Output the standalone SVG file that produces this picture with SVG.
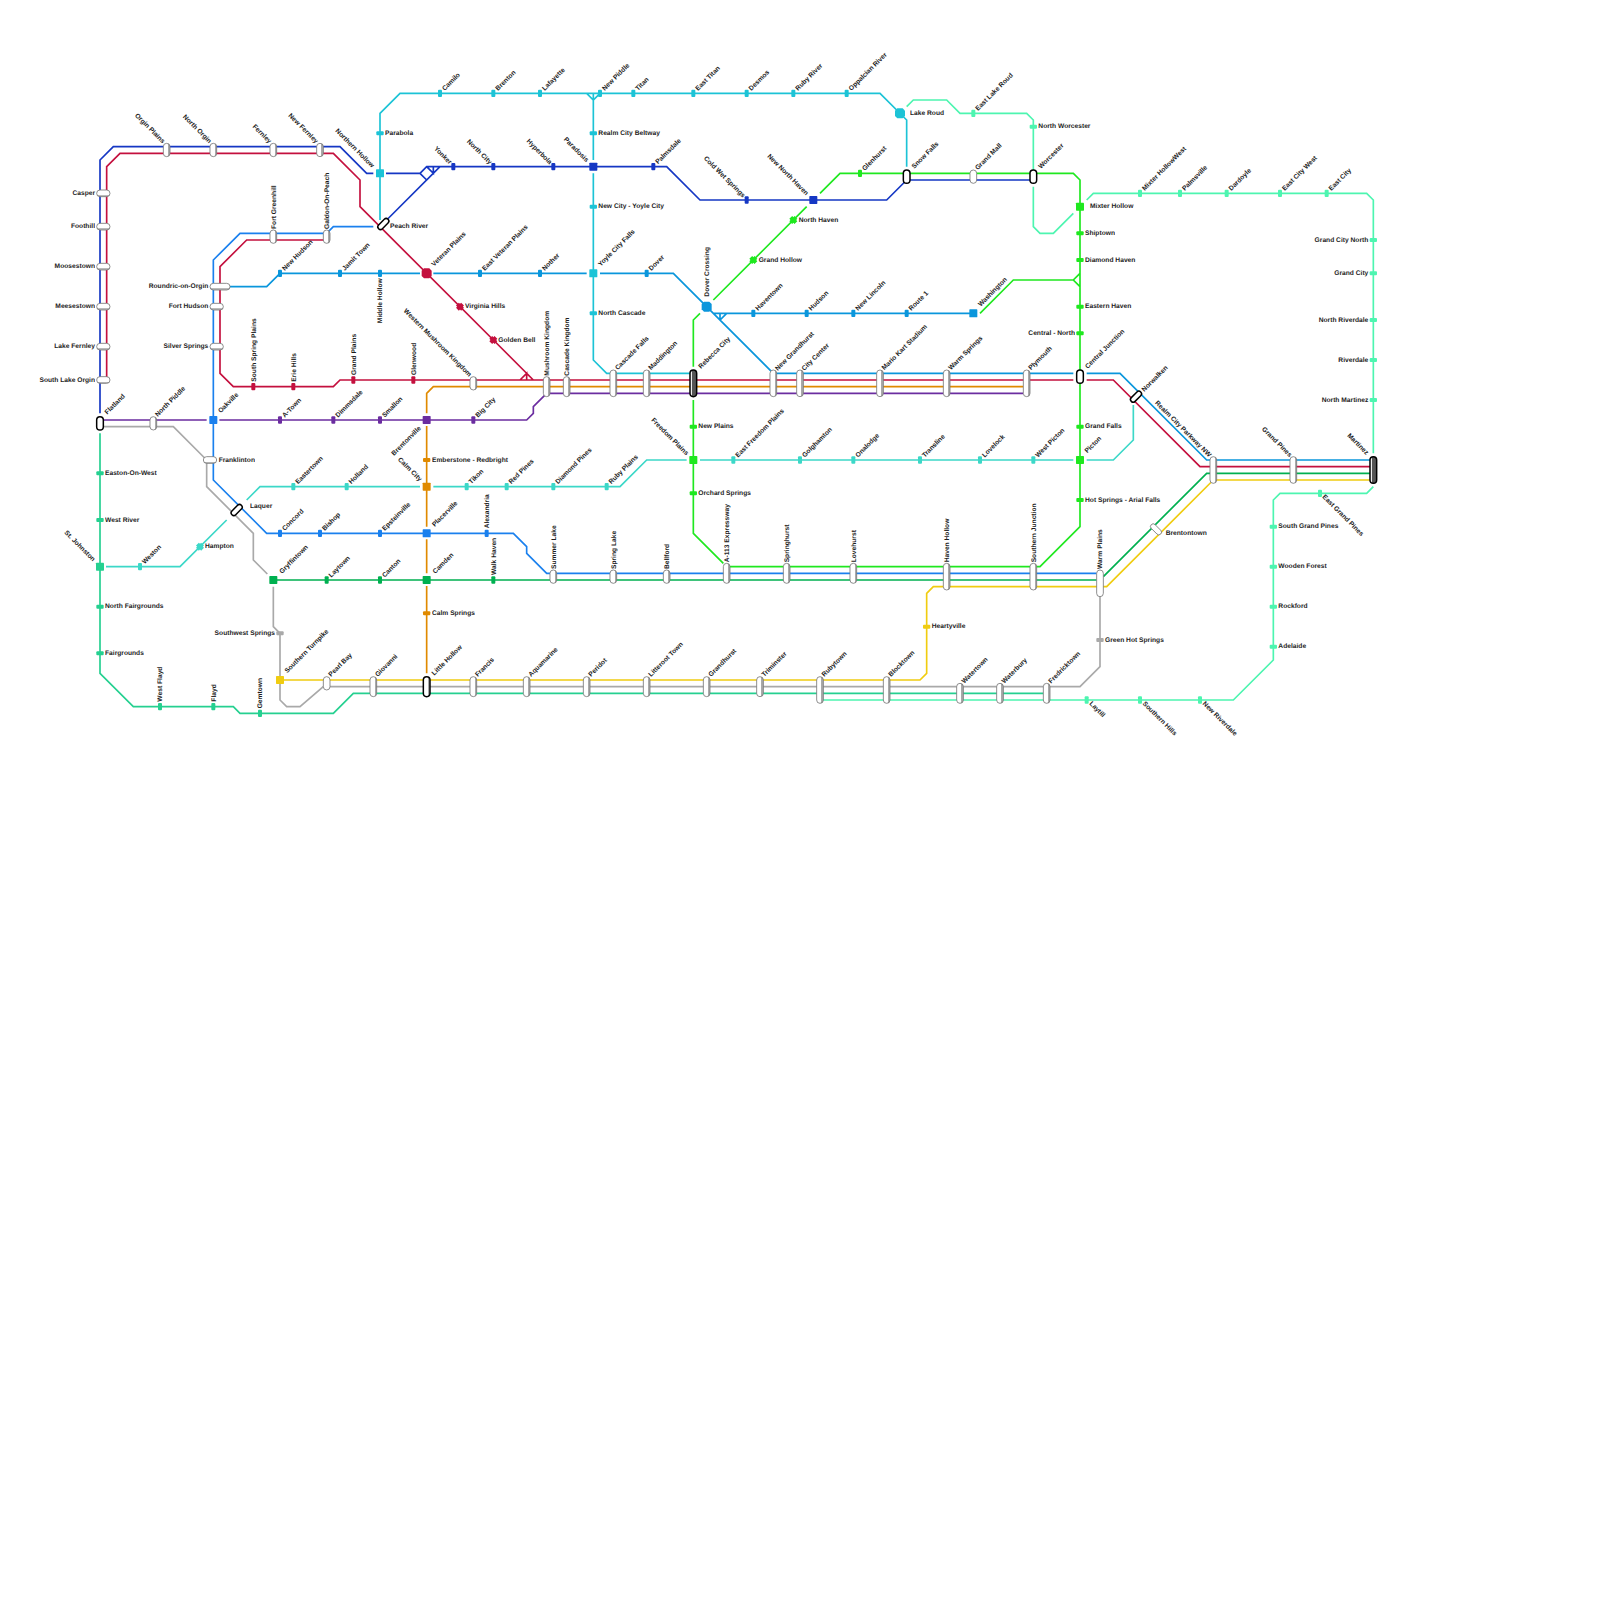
<svg xmlns="http://www.w3.org/2000/svg" width="1600" height="1600" viewBox="0 0 1600 1600">
<style>
text{font-family:"Liberation Sans",Arial,sans-serif;font-weight:700;font-size:20px;fill:#1a1a1a;opacity:.99;text-rendering:geometricPrecision}
.e{text-anchor:end}
path.l{fill:none;stroke-width:5;stroke-linejoin:miter}
.p{stroke:#777;stroke-width:2.5;fill:url(#gv)}
.h{stroke:#777;stroke-width:2.5;fill:url(#gh)}
.k{stroke:#000;stroke-width:4.5;fill:url(#gv)}
.d{stroke:#000;stroke-width:4.5;fill:url(#gd)}
.f{stroke:#000;stroke-width:4.5;fill:#fff}
.g{stroke:#777;stroke-width:2.5;fill:#fff}
.cy{fill:#1cc3d6}.db{fill:#1537c4}.br{fill:#1fe81f}.eb{fill:#0a96dc}.cr{fill:#c4103e}.pu{fill:#6b2da0}.bl{fill:#1a80ee}.or{fill:#e08a00}.tq{fill:#3cd8c8}.gj{fill:#00b050}.sf{fill:#25d090}.gy{fill:#a9a9a9}.ye{fill:#f0cc10}.mi{fill:#4df5b0}
</style>
<defs>
<linearGradient id="gv" x1="0" y1="0" x2="1" y2="0"><stop offset=".72" stop-color="#fff"/><stop offset=".72" stop-color="#aaa"/></linearGradient>
<linearGradient id="gh" x1="0" y1="0" x2="0" y2="1"><stop offset=".75" stop-color="#fff"/><stop offset=".75" stop-color="#bbb"/></linearGradient>
<linearGradient id="gd" x1="0" y1="0" x2="1" y2="0"><stop offset=".3" stop-color="#eee"/><stop offset=".3" stop-color="#555"/></linearGradient>
<rect id="tv" x="-6" y="-11" width="12" height="22" rx="3"/>
<rect id="th" x="-11" y="-6" width="22" height="12" rx="3"/>
<rect id="sq" x="-12" y="-12" width="24" height="24" rx="2"/>
<path id="oc" d="M-8-15H8L15-8V8L8 15H-8L-15 8V-8Z"/>
<path id="xx" d="M-3.5-12L0-8.5L3.5-12L12-3.5L8.5 0L12 3.5L3.5 12L0 8.5L-3.5 12L-12 3.5L-8.5 0L-12-3.5Z"/>
</defs>
<g id="map" transform="scale(.333333)">
<g id="connectors">
<path class="l" stroke="#1537c4" d="M300 1240V480L340 440H1020L1100 520H1120M1158 520H1260L1280 500H2000L2100 600H2660L2720 540H3100M1160 660L1320 500M1260 520L1280 540M1280 500L1300 520V500"/>
<path class="l" stroke="#c4103e" d="M320 1140V500L360 460H1000L1080 540V620L1600 1140M980 720H740L660 800V1120L700 1160H1000L1020 1140H3220M3260 1140H3340L3600 1400H4110M1560 1140L1580 1120V1140M1580 1120L1600 1140"/>
<path class="l" stroke="#1a80ee" d="M1120 680H1000L980 700H720L640 780V1440L800 1600H1540L1580 1640V1660L1640 1720H3290"/>
<path class="l" stroke="#1cc3d6" d="M1140 660V340L1200 280H2640L2720 360V500M1780 280V480M1780 520V1080L1820 1120H2070M1760 280L1780 300L1800 280"/>
<path class="l" stroke="#0a96dc" d="M690 860H800L840 820H1260M1300 820H1760M1800 820H2020L2320 1120H3220M3260 1120H3360L3620 1380H4110M2140 940H2920M2140 940L2160 960L2180 940M2160 940V960"/>
<path class="l" stroke="#1fe81f" d="M2140 900L2420 620M2460 580L2520 520H3220L3240 540V1580L3120 1700H2190M2170 1690L2080 1600V1200M2080 1100V960L2100 940M2940 940L3040 840H3220M3240 820L3220 840L3240 860"/>
<path class="l" stroke="#4df5b0" d="M2720 320L2740 300H2840L2880 340H3080L3100 360V510M3100 560V680L3120 700H3160L3220 640M3260 600L3280 580H4100L4120 600V1360M4120 1460L4100 1480H3840L3820 1500V1980L3700 2100H2460"/>
<path class="l" stroke="#3cd8c8" d="M318 1700H540L680 1560M740 1500L780 1460H1260M1300 1460H1860L1940 1380H2060M2100 1380H3220M3260 1380H3340L3400 1320V1215"/>
<path class="l" stroke="#a9a9a9" d="M310 1280H520L620 1380V1460L760 1600V1680L802 1722M820 1760V1880L840 1900V2100L860 2120H900L970 2060H3240L3300 2000V1790"/>
<path class="l" stroke="#00b050" d="M830 1740H3290M3310 1730L3620 1420H4110"/>
<path class="l" stroke="#f0cc10" d="M840 2040H2760L2780 2020V1780L2800 1760H3320L3640 1440H4110"/>
<path class="l" stroke="#e08a00" d="M3070 1160H1300L1280 1180V1240M1280 1278V1580M1280 1618V1720M1280 1758V2020"/>
<path class="l" stroke="#6b2da0" d="M310 1260H620M658 1260H1580L1600 1240V1220L1640 1180H3070"/>
<path class="l" stroke="#25d090" d="M300 1300V2020L400 2120H700L720 2140H1000L1060 2080H3130"/>
</g>
<g id="nodes">
<g id="n-parabola"><use href="#th" x="1140" y="400" class="cy"/><text x="1155" y="405">Parabola</text></g>
<g id="n-camilo"><use href="#tv" x="1320" y="280" class="cy"/><text transform="translate(1334 273) rotate(-45)">Camilo</text></g>
<g id="n-brenton"><use href="#tv" x="1480" y="280" class="cy"/><text transform="translate(1494 273) rotate(-45)">Brenton</text></g>
<g id="n-lafayette"><use href="#tv" x="1620" y="280" class="cy"/><text transform="translate(1634 273) rotate(-45)">Lafayette</text></g>
<g id="n-new-piddle"><use href="#tv" x="1800" y="280" class="cy"/><text transform="translate(1814 273) rotate(-45)">New Piddle</text></g>
<g id="n-titan"><use href="#tv" x="1900" y="280" class="cy"/><text transform="translate(1914 273) rotate(-45)">Titan</text></g>
<g id="n-east-titan"><use href="#tv" x="2080" y="280" class="cy"/><text transform="translate(2094 273) rotate(-45)">East Titan</text></g>
<g id="n-desmos"><use href="#tv" x="2240" y="280" class="cy"/><text transform="translate(2254 273) rotate(-45)">Desmos</text></g>
<g id="n-ruby-river"><use href="#tv" x="2380" y="280" class="cy"/><text transform="translate(2394 273) rotate(-45)">Ruby River</text></g>
<g id="n-oppalcian-river"><use href="#tv" x="2540" y="280" class="cy"/><text transform="translate(2554 273) rotate(-45)">Oppalcian River</text></g>
<g id="n-realm-city-beltway"><use href="#th" x="1780" y="400" class="cy"/><text x="1795" y="405">Realm City Beltway</text></g>
<g id="n-new-city-yoyle-city"><use href="#th" x="1780" y="620" class="cy"/><text x="1795" y="625">New City - Yoyle City</text></g>
<g id="n-yoyle-city-falls"><use href="#sq" x="1780" y="820" class="cy"/><text transform="translate(1802 800) rotate(-45)">Yoyle City Falls</text></g>
<g id="n-north-cascade"><use href="#th" x="1780" y="940" class="cy"/><text x="1795" y="945">North Cascade</text></g>
<g id="n-lake-roud"><use href="#oc" x="2700" y="340" class="cy"/><text x="2730" y="345">Lake Roud</text></g>
<g id="n-northern-hollow"><use href="#sq" x="1140" y="520" class="cy"/><text class="e" transform="translate(1115 504) rotate(45)">Northern Hollow</text></g>
<g id="n-yonker"><use href="#tv" x="1360" y="500" class="db"/><text class="e" transform="translate(1348 494) rotate(45)">Yonker</text></g>
<g id="n-north-city"><use href="#tv" x="1480" y="500" class="db"/><text class="e" transform="translate(1468 494) rotate(45)">North City</text></g>
<g id="n-hyperbola"><use href="#tv" x="1660" y="500" class="db"/><text class="e" transform="translate(1648 494) rotate(45)">Hyperbola</text></g>
<g id="n-paradosis"><use href="#sq" x="1780" y="500" class="db"/><text class="e" transform="translate(1758 487) rotate(45)">Paradosis</text></g>
<g id="n-palmsdale"><use href="#tv" x="1960" y="500" class="db"/><text transform="translate(1974 493) rotate(-45)">Palmsdale</text></g>
<g id="n-cold-wet-springs"><use href="#tv" x="2240" y="600" class="db"/><text class="e" transform="translate(2228 594) rotate(45)">Cold Wet Springs</text></g>
<g id="n-new-north-haven"><use href="#sq" x="2440" y="600" class="db"/><text class="e" transform="translate(2418 587) rotate(45)">New North Haven</text></g>
<g id="n-glenhurst"><use href="#tv" x="2580" y="520" class="br"/><text transform="translate(2594 513) rotate(-45)">Glenhurst</text></g>
<g id="n-north-haven"><use href="#xx" x="2380" y="660" class="br"/><text x="2396" y="665">North Haven</text></g>
<g id="n-grand-hollow"><use href="#xx" x="2260" y="780" class="br"/><text x="2276" y="785">Grand Hollow</text></g>
<g id="n-mixter-hollow"><use href="#sq" x="3240" y="620" class="br"/><text x="3270" y="625">Mixter Hollow</text></g>
<g id="n-shiptown"><use href="#th" x="3240" y="700" class="br"/><text x="3255" y="705">Shiptown</text></g>
<g id="n-diamond-haven"><use href="#th" x="3240" y="780" class="br"/><text x="3255" y="785">Diamond Haven</text></g>
<g id="n-eastern-haven"><use href="#th" x="3240" y="920" class="br"/><text x="3255" y="925">Eastern Haven</text></g>
<g id="n-central-north"><use href="#th" x="3240" y="1000" class="br"/><text class="e" x="3225" y="1005">Central - North</text></g>
<g id="n-grand-falls"><use href="#th" x="3240" y="1280" class="br"/><text x="3255" y="1285">Grand Falls</text></g>
<g id="n-picton"><use href="#sq" x="3240" y="1380" class="br"/><text transform="translate(3262 1360) rotate(-45)">Picton</text></g>
<g id="n-hot-springs-arial-falls"><use href="#th" x="3240" y="1500" class="br"/><text x="3255" y="1505">Hot Springs - Arial Falls</text></g>
<g id="n-new-plains"><use href="#th" x="2080" y="1280" class="br"/><text x="2095" y="1285">New Plains</text></g>
<g id="n-freedom-plains"><use href="#sq" x="2080" y="1380" class="br"/><text class="e" transform="translate(2058 1367) rotate(45)">Freedom Plains</text></g>
<g id="n-orchard-springs"><use href="#th" x="2080" y="1480" class="br"/><text x="2095" y="1485">Orchard Springs</text></g>
<g id="n-new-hudson"><use href="#tv" x="840" y="820" class="eb"/><text transform="translate(854 813) rotate(-45)">New Hudson</text></g>
<g id="n-jamit-town"><use href="#tv" x="1020" y="820" class="eb"/><text transform="translate(1034 813) rotate(-45)">Jamit Town</text></g>
<g id="n-middle-hollow"><use href="#tv" x="1140" y="820" class="eb"/><text class="e" transform="translate(1147 835) rotate(-90)">Middle Hollow</text></g>
<g id="n-east-veteran-plains"><use href="#tv" x="1440" y="820" class="eb"/><text transform="translate(1454 813) rotate(-45)">East Veteran Plains</text></g>
<g id="n-nother"><use href="#tv" x="1620" y="820" class="eb"/><text transform="translate(1634 813) rotate(-45)">Nother</text></g>
<g id="n-dover"><use href="#tv" x="1940" y="820" class="eb"/><text transform="translate(1954 813) rotate(-45)">Dover</text></g>
<g id="n-dover-crossing"><use href="#oc" x="2120" y="920" class="eb"/><text transform="translate(2127 890) rotate(-90)">Dover Crossing</text></g>
<g id="n-haventown"><use href="#tv" x="2260" y="940" class="eb"/><text transform="translate(2274 933) rotate(-45)">Haventown</text></g>
<g id="n-hudson"><use href="#tv" x="2420" y="940" class="eb"/><text transform="translate(2434 933) rotate(-45)">Hudson</text></g>
<g id="n-new-lincoln"><use href="#tv" x="2560" y="940" class="eb"/><text transform="translate(2574 933) rotate(-45)">New Lincoln</text></g>
<g id="n-route-1"><use href="#tv" x="2720" y="940" class="eb"/><text transform="translate(2734 933) rotate(-45)">Route 1</text></g>
<g id="n-washington"><use href="#sq" x="2920" y="940" class="eb"/><text transform="translate(2942 920) rotate(-45)">Washington</text></g>
<g id="n-veteran-plains"><use href="#oc" x="1280" y="820" class="cr"/><text transform="translate(1302 800) rotate(-45)">Veteran Plains</text></g>
<g id="n-virginia-hills"><use href="#xx" x="1380" y="920" class="cr"/><text x="1395" y="925">Virginia Hills</text></g>
<g id="n-golden-bell"><use href="#xx" x="1480" y="1020" class="cr"/><text x="1495" y="1025">Golden Bell</text></g>
<g id="n-south-spring-plains"><use href="#tv" x="760" y="1160" class="cr"/><text transform="translate(767 1145) rotate(-90)">South Spring Plains</text></g>
<g id="n-erie-hills"><use href="#tv" x="880" y="1160" class="cr"/><text transform="translate(887 1145) rotate(-90)">Erie Hills</text></g>
<g id="n-grand-plains"><use href="#tv" x="1060" y="1140" class="cr"/><text transform="translate(1067 1125) rotate(-90)">Grand Plains</text></g>
<g id="n-glenwood"><use href="#tv" x="1240" y="1140" class="cr"/><text transform="translate(1247 1125) rotate(-90)">Glenwood</text></g>
<g id="n-oakville"><use href="#sq" x="640" y="1260" class="bl"/><text transform="translate(662 1240) rotate(-45)">Oakville</text></g>
<g id="n-a-town"><use href="#tv" x="840" y="1260" class="pu"/><text transform="translate(854 1253) rotate(-45)">A-Town</text></g>
<g id="n-dimmsdale"><use href="#tv" x="1000" y="1260" class="pu"/><text transform="translate(1014 1253) rotate(-45)">Dimmsdale</text></g>
<g id="n-smallon"><use href="#tv" x="1140" y="1260" class="pu"/><text transform="translate(1154 1253) rotate(-45)">Smallon</text></g>
<g id="n-brentonville"><use href="#sq" x="1280" y="1260" class="pu"/><text class="e" transform="translate(1264 1286) rotate(-45)">Brentonville</text></g>
<g id="n-big-city"><use href="#tv" x="1420" y="1260" class="pu"/><text transform="translate(1434 1253) rotate(-45)">Big City</text></g>
<g id="n-emberstone-redbright"><use href="#th" x="1280" y="1380" class="or"/><text x="1296" y="1385">Emberstone - Redbright</text></g>
<g id="n-calm-city"><use href="#sq" x="1280" y="1460" class="or"/><text class="e" transform="translate(1258 1445) rotate(45)">Calm City</text></g>
<g id="n-calm-springs"><use href="#th" x="1280" y="1840" class="or"/><text x="1296" y="1845">Calm Springs</text></g>
<g id="n-placerville"><use href="#sq" x="1280" y="1600" class="bl"/><text transform="translate(1304 1581) rotate(-45)">Placerville</text></g>
<g id="n-camden"><use href="#sq" x="1280" y="1740" class="gj"/><text transform="translate(1306 1722) rotate(-45)">Camden</text></g>
<g id="n-concord"><use href="#tv" x="840" y="1600" class="bl"/><text transform="translate(854 1593) rotate(-45)">Concord</text></g>
<g id="n-bishop"><use href="#tv" x="960" y="1600" class="bl"/><text transform="translate(974 1593) rotate(-45)">Bishop</text></g>
<g id="n-epsteinville"><use href="#tv" x="1140" y="1600" class="bl"/><text transform="translate(1154 1593) rotate(-45)">Epsteinville</text></g>
<g id="n-alexandria"><use href="#tv" x="1460" y="1600" class="bl"/><text transform="translate(1467 1585) rotate(-90)">Alexandria</text></g>
<g id="n-walk-haven"><use href="#tv" x="1480" y="1740" class="gj"/><text transform="translate(1487 1725) rotate(-90)">Walk Haven</text></g>
<g id="n-gryffintown"><use href="#sq" x="820" y="1740" class="gj"/><text transform="translate(846 1722) rotate(-45)">Gryffintown</text></g>
<g id="n-laytown"><use href="#tv" x="980" y="1740" class="gj"/><text transform="translate(994 1733) rotate(-45)">Laytown</text></g>
<g id="n-canton"><use href="#tv" x="1140" y="1740" class="gj"/><text transform="translate(1154 1733) rotate(-45)">Canton</text></g>
<g id="n-eastertown"><use href="#tv" x="880" y="1460" class="tq"/><text transform="translate(894 1453) rotate(-45)">Eastertown</text></g>
<g id="n-holland"><use href="#tv" x="1040" y="1460" class="tq"/><text transform="translate(1054 1453) rotate(-45)">Holland</text></g>
<g id="n-tikon"><use href="#tv" x="1400" y="1460" class="tq"/><text transform="translate(1414 1453) rotate(-45)">Tikon</text></g>
<g id="n-red-pines"><use href="#tv" x="1520" y="1460" class="tq"/><text transform="translate(1534 1453) rotate(-45)">Red Pines</text></g>
<g id="n-diamond-pines"><use href="#tv" x="1660" y="1460" class="tq"/><text transform="translate(1674 1453) rotate(-45)">Diamond Pines</text></g>
<g id="n-ruby-plains"><use href="#tv" x="1820" y="1460" class="tq"/><text transform="translate(1834 1453) rotate(-45)">Ruby Plains</text></g>
<g id="n-east-freedom-plains"><use href="#tv" x="2200" y="1380" class="tq"/><text transform="translate(2214 1373) rotate(-45)">East Freedom Plains</text></g>
<g id="n-golghamton"><use href="#tv" x="2400" y="1380" class="tq"/><text transform="translate(2414 1373) rotate(-45)">Golghamton</text></g>
<g id="n-onalodge"><use href="#tv" x="2560" y="1380" class="tq"/><text transform="translate(2574 1373) rotate(-45)">Onalodge</text></g>
<g id="n-transline"><use href="#tv" x="2760" y="1380" class="tq"/><text transform="translate(2774 1373) rotate(-45)">Transline</text></g>
<g id="n-lovelock"><use href="#tv" x="2940" y="1380" class="tq"/><text transform="translate(2954 1373) rotate(-45)">Lovelock</text></g>
<g id="n-west-picton"><use href="#tv" x="3100" y="1380" class="tq"/><text transform="translate(3114 1373) rotate(-45)">West Picton</text></g>
<g id="n-weston"><use href="#tv" x="420" y="1700" class="tq"/><text transform="translate(434 1693) rotate(-45)">Weston</text></g>
<g id="n-hampton"><use href="#xx" x="600" y="1640" class="tq"/><text x="615" y="1645">Hampton</text></g>
<g id="n-easton-on-west"><use href="#th" x="300" y="1420" class="sf"/><text x="315" y="1425">Easton-On-West</text></g>
<g id="n-west-river"><use href="#th" x="300" y="1560" class="sf"/><text x="315" y="1565">West River</text></g>
<g id="n-st-johnston"><use href="#sq" x="300" y="1700" class="sf"/><text class="e" transform="translate(278 1685) rotate(45)">St. Johnston</text></g>
<g id="n-north-fairgrounds"><use href="#th" x="300" y="1820" class="sf"/><text x="315" y="1825">North Fairgrounds</text></g>
<g id="n-fairgrounds"><use href="#th" x="300" y="1960" class="sf"/><text x="315" y="1965">Fairgrounds</text></g>
<g id="n-west-flayd"><use href="#tv" x="480" y="2120" class="sf"/><text transform="translate(487 2105) rotate(-90)">West Flayd</text></g>
<g id="n-flayd"><use href="#tv" x="640" y="2120" class="sf"/><text transform="translate(647 2105) rotate(-90)">Flayd</text></g>
<g id="n-gemtown"><use href="#tv" x="780" y="2140" class="sf"/><text transform="translate(787 2125) rotate(-90)">Gemtown</text></g>
<g id="n-southwest-springs"><use href="#th" x="840" y="1900" class="gy"/><text class="e" x="825" y="1905">Southwest Springs</text></g>
<g id="n-green-hot-springs"><use href="#th" x="3300" y="1920" class="gy"/><text x="3315" y="1925">Green Hot Springs</text></g>
<g id="n-southern-turnpike"><use href="#sq" x="840" y="2040" class="ye"/><text transform="translate(862 2020) rotate(-45)">Southern Turnpike</text></g>
<g id="n-heartyville"><use href="#th" x="2780" y="1880" class="ye"/><text x="2795" y="1885">Heartyville</text></g>
<g id="n-east-lake-roud"><use href="#tv" x="2920" y="340" class="mi"/><text transform="translate(2934 333) rotate(-45)">East Lake Roud</text></g>
<g id="n-north-worcester"><use href="#th" x="3100" y="380" class="mi"/><text x="3115" y="385">North Worcester</text></g>
<g id="n-mixter-hollowwest"><use href="#tv" x="3420" y="580" class="mi"/><text transform="translate(3434 573) rotate(-45)">Mixter HollowWest</text></g>
<g id="n-palmsville"><use href="#tv" x="3540" y="580" class="mi"/><text transform="translate(3554 573) rotate(-45)">Palmsville</text></g>
<g id="n-dardoyle"><use href="#tv" x="3680" y="580" class="mi"/><text transform="translate(3694 573) rotate(-45)">Dardoyle</text></g>
<g id="n-east-city-west"><use href="#tv" x="3840" y="580" class="mi"/><text transform="translate(3854 573) rotate(-45)">East City West</text></g>
<g id="n-east-city"><use href="#tv" x="3980" y="580" class="mi"/><text transform="translate(3994 573) rotate(-45)">East City</text></g>
<g id="n-grand-city-north"><use href="#th" x="4120" y="720" class="mi"/><text class="e" x="4105" y="725">Grand City North</text></g>
<g id="n-grand-city"><use href="#th" x="4120" y="820" class="mi"/><text class="e" x="4105" y="825">Grand City</text></g>
<g id="n-north-riverdale"><use href="#th" x="4120" y="960" class="mi"/><text class="e" x="4105" y="965">North Riverdale</text></g>
<g id="n-riverdale"><use href="#th" x="4120" y="1080" class="mi"/><text class="e" x="4105" y="1085">Riverdale</text></g>
<g id="n-north-martinez"><use href="#th" x="4120" y="1200" class="mi"/><text class="e" x="4105" y="1205">North Martinez</text></g>
<g id="n-east-grand-pines"><use href="#tv" x="3960" y="1480" class="mi"/><text transform="translate(3966 1492) rotate(45)">East Grand Pines</text></g>
<g id="n-south-grand-pines"><use href="#th" x="3820" y="1580" class="mi"/><text x="3835" y="1585">South Grand Pines</text></g>
<g id="n-wooden-forest"><use href="#th" x="3820" y="1700" class="mi"/><text x="3835" y="1705">Wooden Forest</text></g>
<g id="n-rockford"><use href="#th" x="3820" y="1820" class="mi"/><text x="3835" y="1825">Rockford</text></g>
<g id="n-adelaide"><use href="#th" x="3820" y="1940" class="mi"/><text x="3835" y="1945">Adelaide</text></g>
<g id="n-laytill"><use href="#tv" x="3260" y="2100" class="mi"/><text transform="translate(3267 2112) rotate(45)">Laytill</text></g>
<g id="n-southern-hills"><use href="#tv" x="3420" y="2100" class="mi"/><text transform="translate(3427 2112) rotate(45)">Southern Hills</text></g>
<g id="n-new-riverdale"><use href="#tv" x="3600" y="2100" class="mi"/><text transform="translate(3607 2112) rotate(45)">New Riverdale</text></g>
<g id="n-casper"><rect class="h" x="290" y="570" width="40" height="20" rx="10"/><text class="e" x="285" y="585">Casper</text></g>
<g id="n-foothill"><rect class="h" x="290" y="670" width="40" height="20" rx="10"/><text class="e" x="285" y="685">Foothill</text></g>
<g id="n-moosestown"><rect class="h" x="290" y="790" width="40" height="20" rx="10"/><text class="e" x="285" y="805">Moosestown</text></g>
<g id="n-meesestown"><rect class="h" x="290" y="910" width="40" height="20" rx="10"/><text class="e" x="285" y="925">Meesestown</text></g>
<g id="n-lake-fernley"><rect class="h" x="290" y="1030" width="40" height="20" rx="10"/><text class="e" x="285" y="1045">Lake Fernley</text></g>
<g id="n-south-lake-orgin"><rect class="h" x="290" y="1130" width="40" height="20" rx="10"/><text class="e" x="285" y="1145">South Lake Orgin</text></g>
<g id="n-roundric-on-orgin"><rect class="h" x="630" y="850" width="60" height="20" rx="10"/><text class="e" x="625" y="865">Roundric-on-Orgin</text></g>
<g id="n-fort-hudson"><rect class="h" x="630" y="910" width="40" height="20" rx="10"/><text class="e" x="625" y="925">Fort Hudson</text></g>
<g id="n-silver-springs"><rect class="h" x="630" y="1030" width="40" height="20" rx="10"/><text class="e" x="625" y="1045">Silver Springs</text></g>
<g id="n-franklinton"><rect class="h" x="610" y="1370" width="40" height="20" rx="10"/><text x="656" y="1386">Franklinton</text></g>
<g id="n-orgin-plains"><rect class="p" x="490" y="430" width="20" height="40" rx="10"/><text class="e" transform="translate(487 431) rotate(45)">Orgin Plains</text></g>
<g id="n-north-orgin"><rect class="p" x="630" y="430" width="20" height="40" rx="10"/><text class="e" transform="translate(627 431) rotate(45)">North Orgin</text></g>
<g id="n-fernley"><rect class="p" x="810" y="430" width="20" height="40" rx="10"/><text class="e" transform="translate(807 431) rotate(45)">Fernley</text></g>
<g id="n-new-fernley"><rect class="p" x="950" y="430" width="20" height="40" rx="10"/><text class="e" transform="translate(947 431) rotate(45)">New Fernley</text></g>
<g id="n-fort-greenhill"><rect class="p" x="810" y="690" width="20" height="40" rx="10"/><text transform="translate(827 687) rotate(-90)">Fort Greenhill</text></g>
<g id="n-galdon-on-peach"><rect class="p" x="970" y="690" width="20" height="40" rx="10"/><text transform="translate(987 687) rotate(-90)">Galdon-On-Peach</text></g>
<g id="n-flatland"><rect class="f" x="290" y="1250" width="20" height="40" rx="10"/><text transform="translate(322 1244) rotate(-45)">Flatland</text></g>
<g id="n-north-piddle"><rect class="p" x="450" y="1250" width="20" height="40" rx="10"/><text transform="translate(473 1251) rotate(-45)">North Piddle</text></g>
<g id="n-peach-river"><rect class="f" x="-20" y="-8" width="40" height="16" rx="8" transform="translate(1150 672) rotate(-45)"/><text x="1170" y="684">Peach River</text></g>
<g id="n-laquer"><rect class="f" x="-20" y="-8" width="40" height="16" rx="8" transform="translate(710 1530) rotate(-45)"/><text x="750" y="1525">Laquer</text></g>
<g id="n-norwalken"><rect class="f" x="-20" y="-8" width="40" height="16" rx="8" transform="translate(3408 1190) rotate(-45)"/><text transform="translate(3433 1176) rotate(-45)">Norwalken</text></g>
<g id="n-brentontown"><rect class="g" x="-20" y="-8" width="40" height="16" rx="8" transform="translate(3468 1588) rotate(45)"/><text x="3497" y="1605">Brentontown</text></g>
<g id="n-western-mushroom-kingdom"><rect class="p" x="1410" y="1130" width="20" height="40" rx="10"/><text class="e" transform="translate(1407 1131) rotate(45)">Western Mushroom Kingdom</text></g>
<g id="n-mushroom-kingdom"><rect class="p" x="1630" y="1130" width="20" height="60" rx="10"/><text transform="translate(1647 1127) rotate(-90)">Mushroom Kingdom</text></g>
<g id="n-cascade-kingdom"><rect class="p" x="1690" y="1130" width="20" height="60" rx="10"/><text transform="translate(1707 1127) rotate(-90)">Cascade Kingdom</text></g>
<g id="n-cascade-falls"><rect class="p" x="1830" y="1110" width="20" height="80" rx="10"/><text transform="translate(1853 1111) rotate(-45)">Cascade Falls</text></g>
<g id="n-maddington"><rect class="p" x="1930" y="1110" width="20" height="80" rx="10"/><text transform="translate(1953 1111) rotate(-45)">Maddington</text></g>
<g id="n-rebecca-city"><rect class="d" x="2070" y="1110" width="20" height="80" rx="10"/><text transform="translate(2103 1107) rotate(-45)">Rebecca City</text></g>
<g id="n-new-grandhurst"><rect class="p" x="2310" y="1110" width="20" height="80" rx="10"/><text transform="translate(2333 1113) rotate(-45)">New Grandhurst</text></g>
<g id="n-city-center"><rect class="p" x="2390" y="1110" width="20" height="80" rx="10"/><text transform="translate(2413 1113) rotate(-45)">City Center</text></g>
<g id="n-mario-kart-stadium"><rect class="p" x="2630" y="1110" width="20" height="80" rx="10"/><text transform="translate(2653 1111) rotate(-45)">Mario Kart Stadium</text></g>
<g id="n-warm-springs"><rect class="p" x="2830" y="1110" width="20" height="80" rx="10"/><text transform="translate(2853 1111) rotate(-45)">Warm Springs</text></g>
<g id="n-plymouth"><rect class="p" x="3070" y="1110" width="20" height="80" rx="10"/><text transform="translate(3093 1111) rotate(-45)">Plymouth</text></g>
<g id="n-central-junction"><rect class="f" x="3230" y="1110" width="20" height="40" rx="10"/><text transform="translate(3263 1107) rotate(-45)">Central Junction</text></g>
<g id="n-realm-city-parkway-nw"><rect class="p" x="3630" y="1370" width="20" height="80" rx="10"/><text class="e" transform="translate(3626 1372) rotate(45)">Realm City Parkway NW</text></g>
<g id="n-grand-pines"><rect class="p" x="3870" y="1370" width="20" height="80" rx="10"/><text class="e" transform="translate(3868 1372) rotate(45)">Grand Pines</text></g>
<g id="n-martinez"><rect class="d" x="4110" y="1370" width="20" height="80" rx="10"/><text class="e" transform="translate(4098 1365) rotate(45)">Martinez</text></g>
<g id="n-summer-lake"><rect class="p" x="1650" y="1710" width="20" height="40" rx="10"/><text transform="translate(1667 1707) rotate(-90)">Summer Lake</text></g>
<g id="n-spring-lake"><rect class="p" x="1830" y="1710" width="20" height="40" rx="10"/><text transform="translate(1847 1707) rotate(-90)">Spring Lake</text></g>
<g id="n-bellford"><rect class="p" x="1990" y="1710" width="20" height="40" rx="10"/><text transform="translate(2007 1707) rotate(-90)">Bellford</text></g>
<g id="n-a-113-expressway"><rect class="p" x="2170" y="1690" width="20" height="60" rx="10"/><text transform="translate(2187 1687) rotate(-90)">A-113 Expressway</text></g>
<g id="n-springhurst"><rect class="p" x="2350" y="1690" width="20" height="60" rx="10"/><text transform="translate(2367 1687) rotate(-90)">Springhurst</text></g>
<g id="n-lovehurst"><rect class="p" x="2550" y="1690" width="20" height="60" rx="10"/><text transform="translate(2567 1687) rotate(-90)">Lovehurst</text></g>
<g id="n-haven-hollow"><rect class="p" x="2830" y="1690" width="20" height="80" rx="10"/><text transform="translate(2847 1687) rotate(-90)">Haven Hollow</text></g>
<g id="n-southern-junction"><rect class="p" x="3090" y="1690" width="20" height="80" rx="10"/><text transform="translate(3107 1687) rotate(-90)">Southern Junction</text></g>
<g id="n-warm-plains"><rect class="g" x="3290" y="1710" width="20" height="80" rx="10"/><text transform="translate(3307 1707) rotate(-90)">Warm Plains</text></g>
<g id="n-pearl-bay"><rect class="g" x="970" y="2030" width="20" height="40" rx="10"/><text transform="translate(993 2031) rotate(-45)">Pearl Bay</text></g>
<g id="n-giovanni"><rect class="p" x="1110" y="2030" width="20" height="60" rx="10"/><text transform="translate(1133 2031) rotate(-45)">Giovanni</text></g>
<g id="n-little-hollow"><rect class="k" x="1270" y="2030" width="20" height="60" rx="10"/><text transform="translate(1303 2027) rotate(-45)">Little Hollow</text></g>
<g id="n-francis"><rect class="p" x="1410" y="2030" width="20" height="60" rx="10"/><text transform="translate(1433 2031) rotate(-45)">Francis</text></g>
<g id="n-aquamarine"><rect class="p" x="1570" y="2030" width="20" height="60" rx="10"/><text transform="translate(1593 2031) rotate(-45)">Aquamarine</text></g>
<g id="n-peridot"><rect class="p" x="1750" y="2030" width="20" height="60" rx="10"/><text transform="translate(1773 2031) rotate(-45)">Peridot</text></g>
<g id="n-litteroot-town"><rect class="p" x="1930" y="2030" width="20" height="60" rx="10"/><text transform="translate(1953 2031) rotate(-45)">Litteroot Town</text></g>
<g id="n-grandhurst"><rect class="p" x="2110" y="2030" width="20" height="60" rx="10"/><text transform="translate(2133 2031) rotate(-45)">Grandhurst</text></g>
<g id="n-triminster"><rect class="p" x="2270" y="2030" width="20" height="60" rx="10"/><text transform="translate(2293 2031) rotate(-45)">Triminster</text></g>
<g id="n-rubytown"><rect class="p" x="2450" y="2030" width="20" height="80" rx="10"/><text transform="translate(2473 2031) rotate(-45)">Rubytown</text></g>
<g id="n-blocktown"><rect class="p" x="2650" y="2030" width="20" height="80" rx="10"/><text transform="translate(2673 2031) rotate(-45)">Blocktown</text></g>
<g id="n-watertown"><rect class="p" x="2870" y="2050" width="20" height="60" rx="10"/><text transform="translate(2893 2051) rotate(-45)">Watertown</text></g>
<g id="n-waterbury"><rect class="p" x="2990" y="2050" width="20" height="60" rx="10"/><text transform="translate(3013 2051) rotate(-45)">Waterbury</text></g>
<g id="n-fredricktown"><rect class="p" x="3130" y="2050" width="20" height="60" rx="10"/><text transform="translate(3153 2051) rotate(-45)">Fredricktown</text></g>
<g id="n-snow-falls"><rect class="f" x="2710" y="510" width="20" height="40" rx="10"/><text transform="translate(2743 507) rotate(-45)">Snow Falls</text></g>
<g id="n-grand-mall"><rect class="g" x="2910" y="510" width="20" height="40" rx="10"/><text transform="translate(2933 511) rotate(-45)">Grand Mall</text></g>
<g id="n-worcester"><rect class="f" x="3090" y="510" width="20" height="40" rx="10"/><text transform="translate(3123 507) rotate(-45)">Worcester</text></g>
</g>
</g>
</svg>
